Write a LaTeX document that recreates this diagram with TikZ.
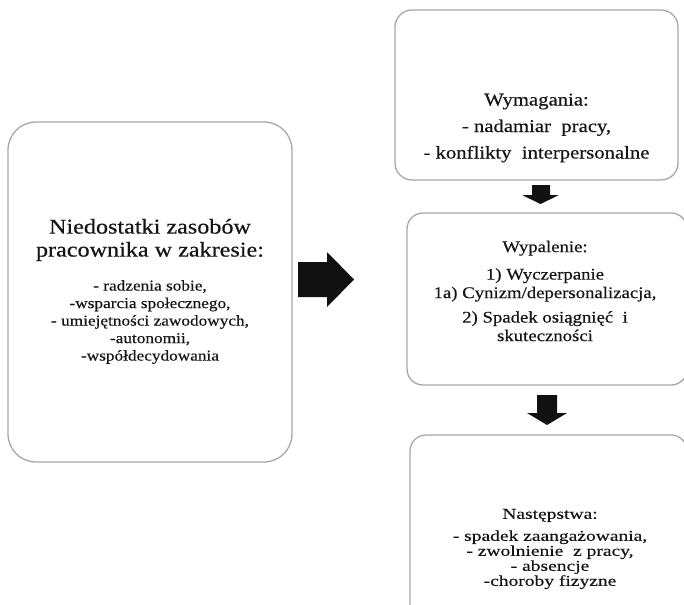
\documentclass[tikz,border=0pt]{standalone}
\usepackage{fontspec}
\setmainfont[FakeStretch=1.15,FakeBold=0.4]{Liberation Serif}
\newfontfamily\widefont[FakeStretch=1.3,FakeBold=0.4]{Liberation Serif}
\usetikzlibrary{calc}
\definecolor{boxline}{HTML}{A8A8A8}
\definecolor{txt}{HTML}{151515}
\definecolor{arrowfill}{HTML}{111111}
\tikzset{
  roundbox/.style={draw=boxline, line width=1.3pt, fill=white, inner sep=0pt},
  boxtext/.style={text=txt, align=center, inner sep=0pt},
  bigtext/.style={boxtext, font=\fontsize{21}{23}\selectfont},
  smalltext/.style={boxtext, font=\fontsize{15}{17.5}\selectfont},
  blockarrow/.style={fill=arrowfill, draw=none}
}
\begin{document}
\begin{tikzpicture}[x=1pt,y=-1pt]
\useasboundingbox (0,0) rectangle (684,604);
\clip (0,0) rectangle (684,604);

% left box
\node[roundbox, rounded corners=28pt, minimum width=284pt, minimum height=340pt] (res) at (150,292) {};
\node[bigtext] (restitle) at (150,240) {Niedostatki zasobów\\pracownika w zakresie:};
\node[smalltext] (reslist) at (150,322) {- radzenia sobie,\\-wsparcia społecznego,\\- umiejętności zawodowych,\\-autonomii,\\-współdecydowania};

% top right box
\node[roundbox, rounded corners=17pt, minimum width=283pt, minimum height=170pt] (dem) at (536.5,95) {};
\node[boxtext, font=\fontsize{18}{26.5}\selectfont] (demtext) at (536.5,128) {Wymagania:\\- nadamiar\ \ pracy,\\- konflikty\ \ interpersonalne};

% middle right box
\node[roundbox, rounded corners=16pt, minimum width=280pt, minimum height=172pt] (burn) at (547,299) {};
\node[boxtext, font=\fontsize{16.3}{18.5}\selectfont] (burntext) at (545,291) {Wypalenie:\\[9pt]1) Wyczerpanie\\1a) Cynizm/depersonalizacja,\\[6pt]2) Spadek osiągnięć\ \ i\\skuteczności};

% bottom right box
\node[roundbox, rounded corners=16pt, minimum width=277pt, minimum height=210pt] (cons) at (548.5,540) {};
\node[boxtext, font=\widefont\fontsize{15}{15}\selectfont] (constext) at (550,549) {Następstwa:\\[7pt]- spadek zaangażowania,\\- zwolnienie\ \ z pracy,\\- absencje\\-choroby fizyzne};

% block arrows
\fill[blockarrow] (298,262) -- (327,262) -- (327,252) -- (354,279.5) -- (327,307) -- (327,297) -- (298,297) -- cycle;
\fill[blockarrow] (532,185) -- (550,185) -- (550,195) -- (559,195) -- (540.5,204) -- (522,195) -- (532,195) -- cycle;
\fill[blockarrow] (537,395) -- (557,395) -- (557,413) -- (567,413) -- (547,425) -- (527,413) -- (537,413) -- cycle;
\end{tikzpicture}
\end{document}
